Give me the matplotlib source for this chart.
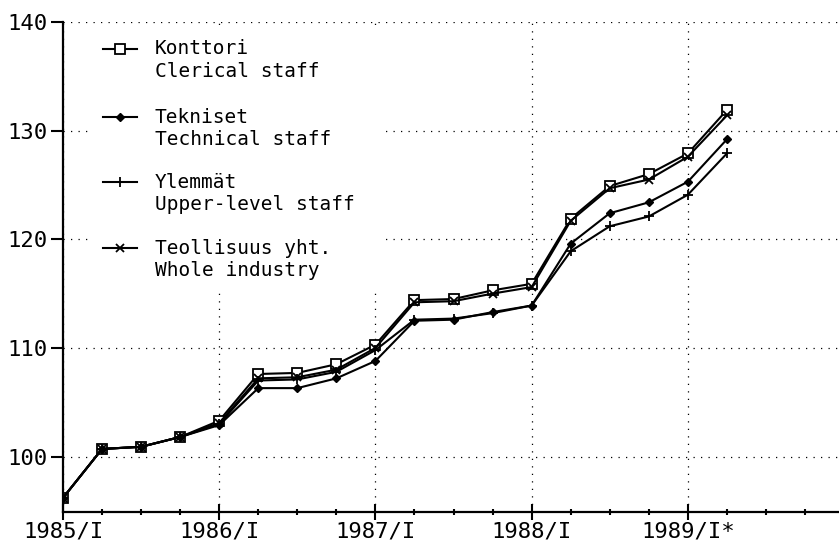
import numpy as np
import matplotlib.pyplot as plt
from matplotlib.patches import Rectangle

# neljännesvuosittaiset indeksit 1985/I - 1989/II
quarters = np.arange(18)
clerical = [96.2, 100.7, 100.9, 101.8, 103.3, 107.6, 107.7, 108.5, 110.3,
            114.4, 114.5, 115.3, 115.9, 121.9, 124.9, 126.0, 127.9, 131.9]
technical = [96.2, 100.7, 100.9, 101.8, 102.9, 106.3, 106.3, 107.2, 108.8,
             112.5, 112.6, 113.3, 113.9, 119.6, 122.4, 123.4, 125.3, 129.2]
upper = [96.2, 100.7, 100.9, 101.8, 103.0, 107.0, 107.1, 107.8, 109.8,
         112.6, 112.7, 113.2, 113.9, 118.9, 121.2, 122.1, 124.1, 127.9]
whole = [96.2, 100.7, 100.9, 101.8, 103.1, 107.2, 107.3, 108.0, 110.0,
         114.2, 114.3, 115.0, 115.6, 121.7, 124.7, 125.5, 127.6, 131.4]

year_ticks = [0, 4, 8, 12, 16]
year_labels = ['1985/I', '1986/I', '1987/I', '1988/I', '1989/I*']
y_ticks = [100, 110, 120, 130, 140]

legend_fi = ['Konttori', 'Tekniset', 'Ylemmät', 'Teollisuus yht.']
legend_en = ['Clerical staff', 'Technical staff', 'Upper-level staff', 'Whole industry']

mono = 'DejaVu Sans Mono'

fig = plt.figure(figsize=(8.39, 5.42), dpi=100)
ax = fig.add_axes([0.0751, 0.0554, 0.9249, 0.904])

series = [
    (clerical, dict(marker='s', ms=6.5, mfc='white', mec='black', mew=1.3)),
    (technical, dict(marker='D', ms=4.5, mfc='black', mec='black')),
    (upper, dict(marker='+', ms=7, mew=1.3)),
    (whole, dict(marker='x', ms=5.5, mew=1.3)),
]
for vals, style in series:
    ax.plot(quarters, vals, color='black', lw=1.5, zorder=3, **style)

ax.set_xlim(0, 19.87)
ax.set_ylim(94.9, 140)

# akselit
for s in ['top', 'right']:
    ax.spines[s].set_visible(False)
for s in ['left', 'bottom']:
    ax.spines[s].set_linewidth(1.6)

ax.set_yticks(y_ticks)
ax.set_yticklabels([str(v) for v in y_ticks], fontfamily=mono, fontsize=16)
ax.set_xticks(year_ticks)
ax.set_xticklabels(year_labels, fontfamily=mono, fontsize=16)
ax.set_xticks(np.arange(0, 20), minor=True)
ax.tick_params(axis='y', direction='out', length=9, width=1.5, pad=2)
ax.tick_params(axis='x', which='major', direction='inout', length=12, width=1.5, pad=1)
ax.tick_params(axis='x', which='minor', direction='inout', length=4, width=1.5)

ax.grid(True, which='major', color='black', linestyle=(0, (1, 5)), lw=0.9)
ax.set_axisbelow(True)

# selitteen tausta peittää ruudukon
ax.add_patch(Rectangle((0.035, 0.45), 0.38, 0.535, transform=ax.transAxes,
                       facecolor='white', edgecolor='none', zorder=1.5))

# selite
x0, x1 = 0.052, 0.095
ytop = [0.945, 0.806, 0.673, 0.538]
for (vals, style), fi, en, yy in zip(series, legend_fi, legend_en, ytop):
    ax.plot([x0, (x0 + x1) / 2, x1], [yy] * 3, transform=ax.transAxes,
            color='black', lw=1.5, markevery=[1], zorder=4, **style)
    ax.text(0.118, yy, fi, transform=ax.transAxes, fontfamily=mono,
            fontsize=14, va='center', ha='left', zorder=4)
    ax.text(0.118, yy - 0.046, en, transform=ax.transAxes, fontfamily=mono,
            fontsize=14, va='center', ha='left', zorder=4)

fig.savefig('out.png', dpi=100)
